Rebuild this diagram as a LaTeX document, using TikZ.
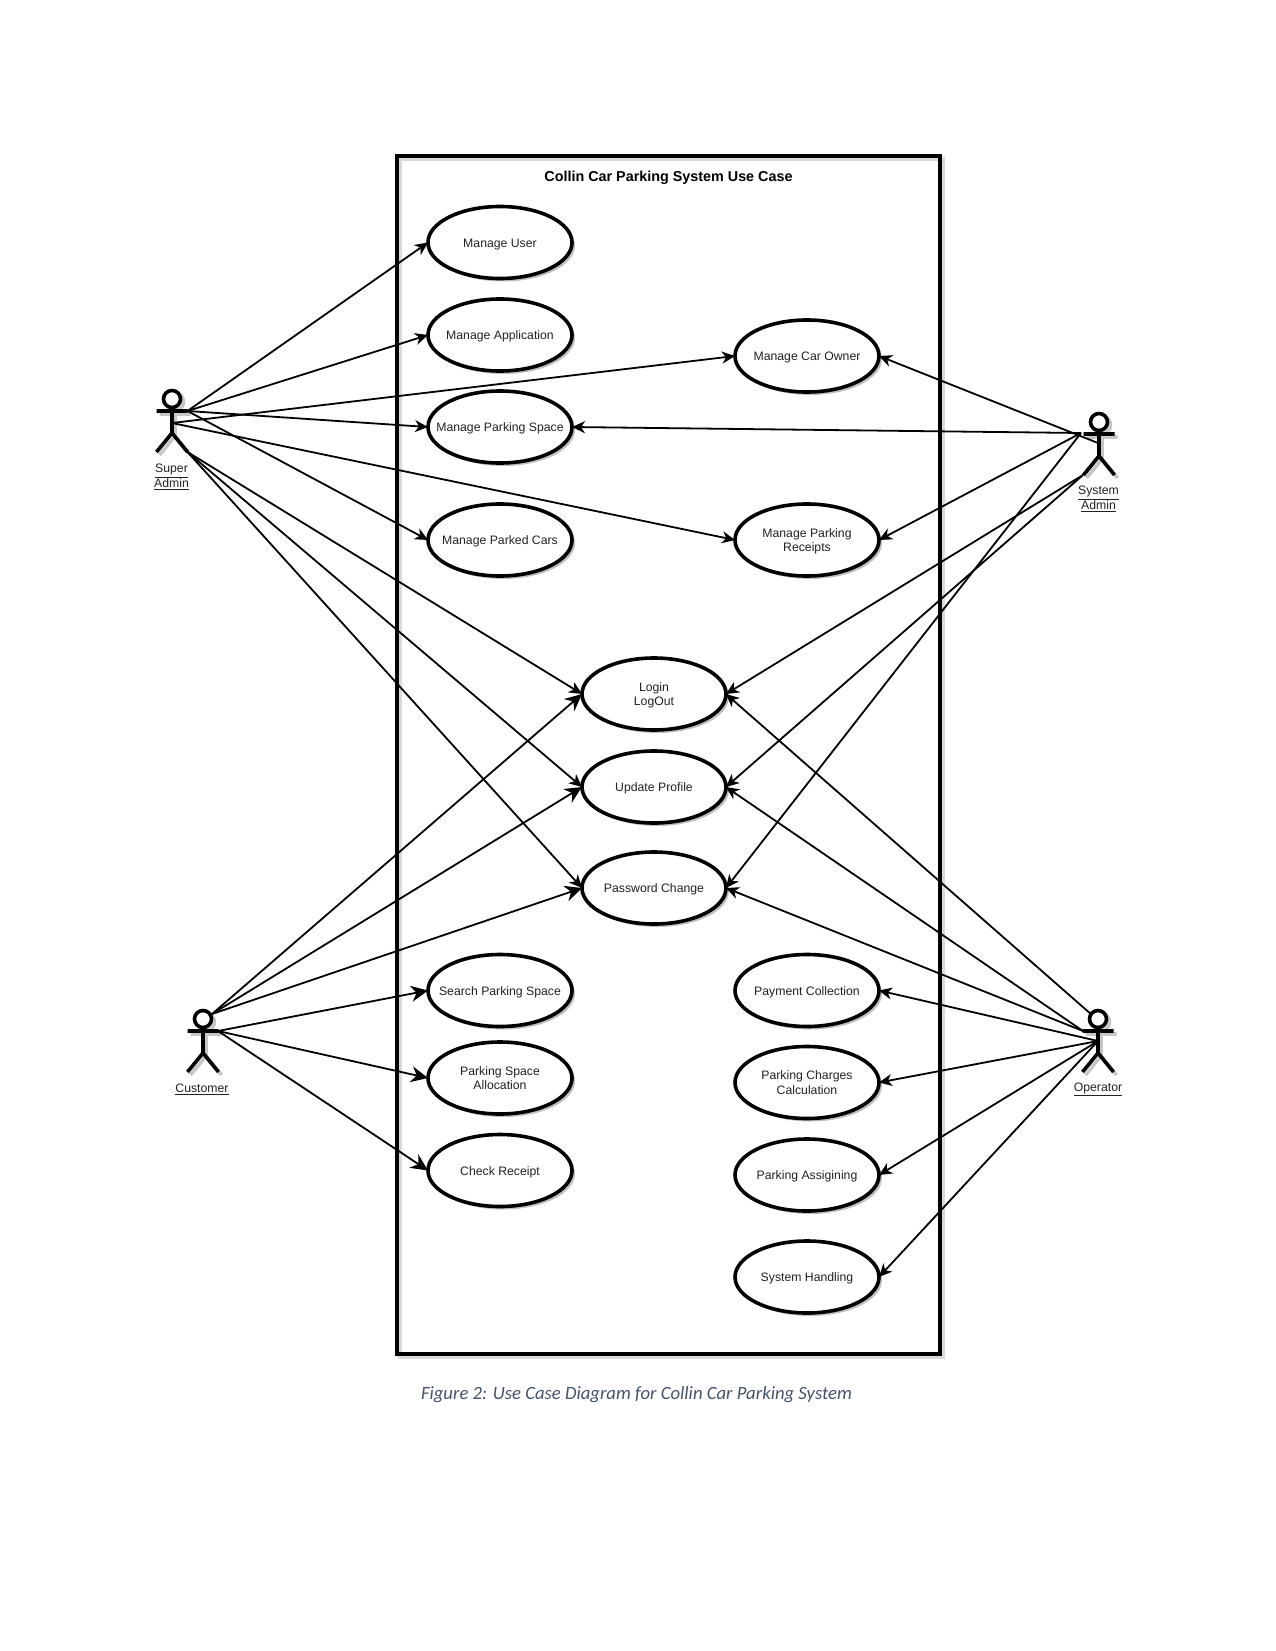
\documentclass[tikz,border=0pt]{standalone}
\usepackage{fontspec}
\setmainfont{Liberation Sans}
\newfontfamily\capfont{Carlito}
\usetikzlibrary{arrows.meta,shapes.geometric,shadows}
\definecolor{capcol}{HTML}{44546A}
\definecolor{txt}{HTML}{222222}
\newcommand{\uclbl}[1]{\raisebox{-1.5pt}[9pt][3pt]{#1}}
\tikzset{
  x=1pt,y=-1pt,
  usecase/.style={ellipse,draw=black,line width=3.6pt,fill=white,minimum width=144pt,minimum height=72pt,inner xsep=-30pt,inner ysep=0pt,outer sep=0pt,align=center,
    font=\fontsize{12.25}{14.5}\selectfont,text=txt,drop shadow={shadow xshift=3pt,shadow yshift=-3pt,fill=black,opacity=.25}},
  assoc/.style={line width=1.8pt,-{Stealth[length=13pt,width=12pt,inset=4pt]}},
  bigassoc/.style={line width=1.8pt,-{Stealth[length=17pt,width=16pt,inset=5.5pt]}},
  actorlabel/.style={font=\fontsize{12.25}{14.5}\selectfont,text=txt,align=center,inner sep=0pt},
  stick/.style={line width=3.6pt,draw=black},
  stickshadow/.style={line width=3.6pt,draw=black!22},
  framebox/.style={line width=4.8pt,draw=black},
  frameshadow/.style={line width=4pt,draw=black!15},
  actor/.pic={
    \draw[stickshadow,shift={(3,3)}] (0,0) circle (8.5);
    \draw[stickshadow,shift={(3,3)}] (-15.5,12) -- (15.5,12) (0,8.5) -- (0,34) (-15.5,53) -- (0,34) -- (15.5,53);
    \draw[stick,fill=white] (0,0) circle (8.5);
    \draw[stick] (-15.5,12) -- (15.5,12) (0,8.5) -- (0,34) (-15.5,53) -- (0,34) -- (15.5,53);
  }
}
\begin{document}
\begin{tikzpicture}
\useasboundingbox (0,0) rectangle (1275,1651);
\fill[white] (0,0) rectangle (1275,1651);
% frame
\draw[frameshadow] (400,159) rectangle (943,1357);
\draw[framebox] (397,156) rectangle (940,1354);
\node[font=\bfseries\fontsize{14.35}{16}\selectfont,inner sep=0pt] (title) at (668.5,178) {Collin Car Parking System Use Case};
% use cases
\node[usecase] (mu) at (500,242.5) {\uclbl{Manage User}};
\node[usecase] (ma) at (500,335) {\uclbl{Manage Application}};
\node[usecase] (mp) at (500,427) {\uclbl{Manage Parking Space}};
\node[usecase] (mc) at (500,540) {\uclbl{Manage Parked Cars}};
\node[usecase] (mo) at (807,356) {\uclbl{Manage Car Owner}};
\node[usecase] (mr) at (807,540) {\uclbl{Manage Parking}\\\uclbl{Receipts}};
\node[usecase] (li) at (654,694) {\uclbl{Login}\\\uclbl{LogOut}};
\node[usecase] (up) at (654,787) {\uclbl{Update Profile}};
\node[usecase] (pw) at (654,888) {\uclbl{Password Change}};
\node[usecase] (ss) at (500,990.5) {\uclbl{Search Parking Space}};
\node[usecase] (sa) at (500,1078) {\uclbl{Parking Space}\\\uclbl{Allocation}};
\node[usecase] (cr) at (500,1170.5) {\uclbl{Check Receipt}};
\node[usecase] (pc) at (807,990.5) {\uclbl{Payment Collection}};
\node[usecase] (pq) at (807,1082.5) {\uclbl{Parking Charges}\\\uclbl{Calculation}};
\node[usecase] (pa) at (807,1175) {\uclbl{Parking Assigining}};
\node[usecase] (sh) at (807,1277) {\uclbl{System Handling}};
% actors
\pic at (172,399) {actor};
\pic at (1099,422) {actor};
\pic at (203,1019) {actor};
\pic at (1098,1019) {actor};
\node[actorlabel] (lsa) at (171.5,477) {\underline{Super}\\\underline{Admin}};
\node[actorlabel] (lsy) at (1098.5,499) {\underline{System}\\\underline{Admin}};
\node[actorlabel] (lcu) at (202,1089.5) {\underline{Customer}};
\node[actorlabel] (lop) at (1098,1089.5) {\underline{Operator}};
% connector ends
\coordinate (sa1) at (187.5,411);
\coordinate (sa2) at (172,423);
\coordinate (sa3) at (187.5,452);
\coordinate (sy1) at (1081,433);
\coordinate (sy2) at (1098,443);
\coordinate (sy3) at (1083,475);
\coordinate (cu1) at (212,1014);
\coordinate (cu2) at (218,1031);
\coordinate (op0) at (1092,1015);
\coordinate (op1) at (1083,1031);
\coordinate (op2) at (1098,1041);
% super admin
\draw[assoc] (sa1) -- (mu.west);
\draw[assoc] (sa1) -- (ma.west);
\draw[assoc] (sa2) -- (mo.west);
\draw[assoc] (sa1) -- (mp.west);
\draw[assoc] (sa1) -- (mc.west);
\draw[assoc] (sa2) -- (mr.west);
\draw[assoc] (sa3) -- (li.west);
\draw[assoc] (sa3) -- (up.west);
\draw[assoc] (sa3) -- (pw.west);
% system admin
\draw[assoc] (sy2) -- (mo.east);
\draw[assoc] (sy1) -- (mp.east);
\draw[assoc] (sy1) -- (mr.east);
\draw[assoc] (sy3) -- (li.east);
\draw[assoc] (sy3) -- (up.east);
\draw[assoc] (sy1) -- (pw.east);
% customer
\draw[bigassoc] (cu1) -- (li.west);
\draw[bigassoc] (cu1) -- (up.west);
\draw[bigassoc] (cu1) -- (pw.west);
\draw[bigassoc] (cu2) -- (ss.west);
\draw[bigassoc] (cu2) -- (sa.west);
\draw[bigassoc] (cu2) -- (cr.west);
% operator
\draw[assoc] (op0) -- (li.east);
\draw[assoc] (op1) -- (up.east);
\draw[assoc] (op1) -- (pw.east);
\draw[assoc] (op2) -- (pc.east);
\draw[assoc] (op2) -- (pq.east);
\draw[assoc] (op2) -- (pa.east);
\draw[assoc] (op2) -- (sh.east);
% caption
\node[font=\capfont\itshape\fontsize{18.7}{24}\selectfont,text=capcol,inner sep=0pt] (cap) at (636.5,1394.5) {Figure 2: Use Case Diagram for Collin Car Parking System};
\end{tikzpicture}
\end{document}
